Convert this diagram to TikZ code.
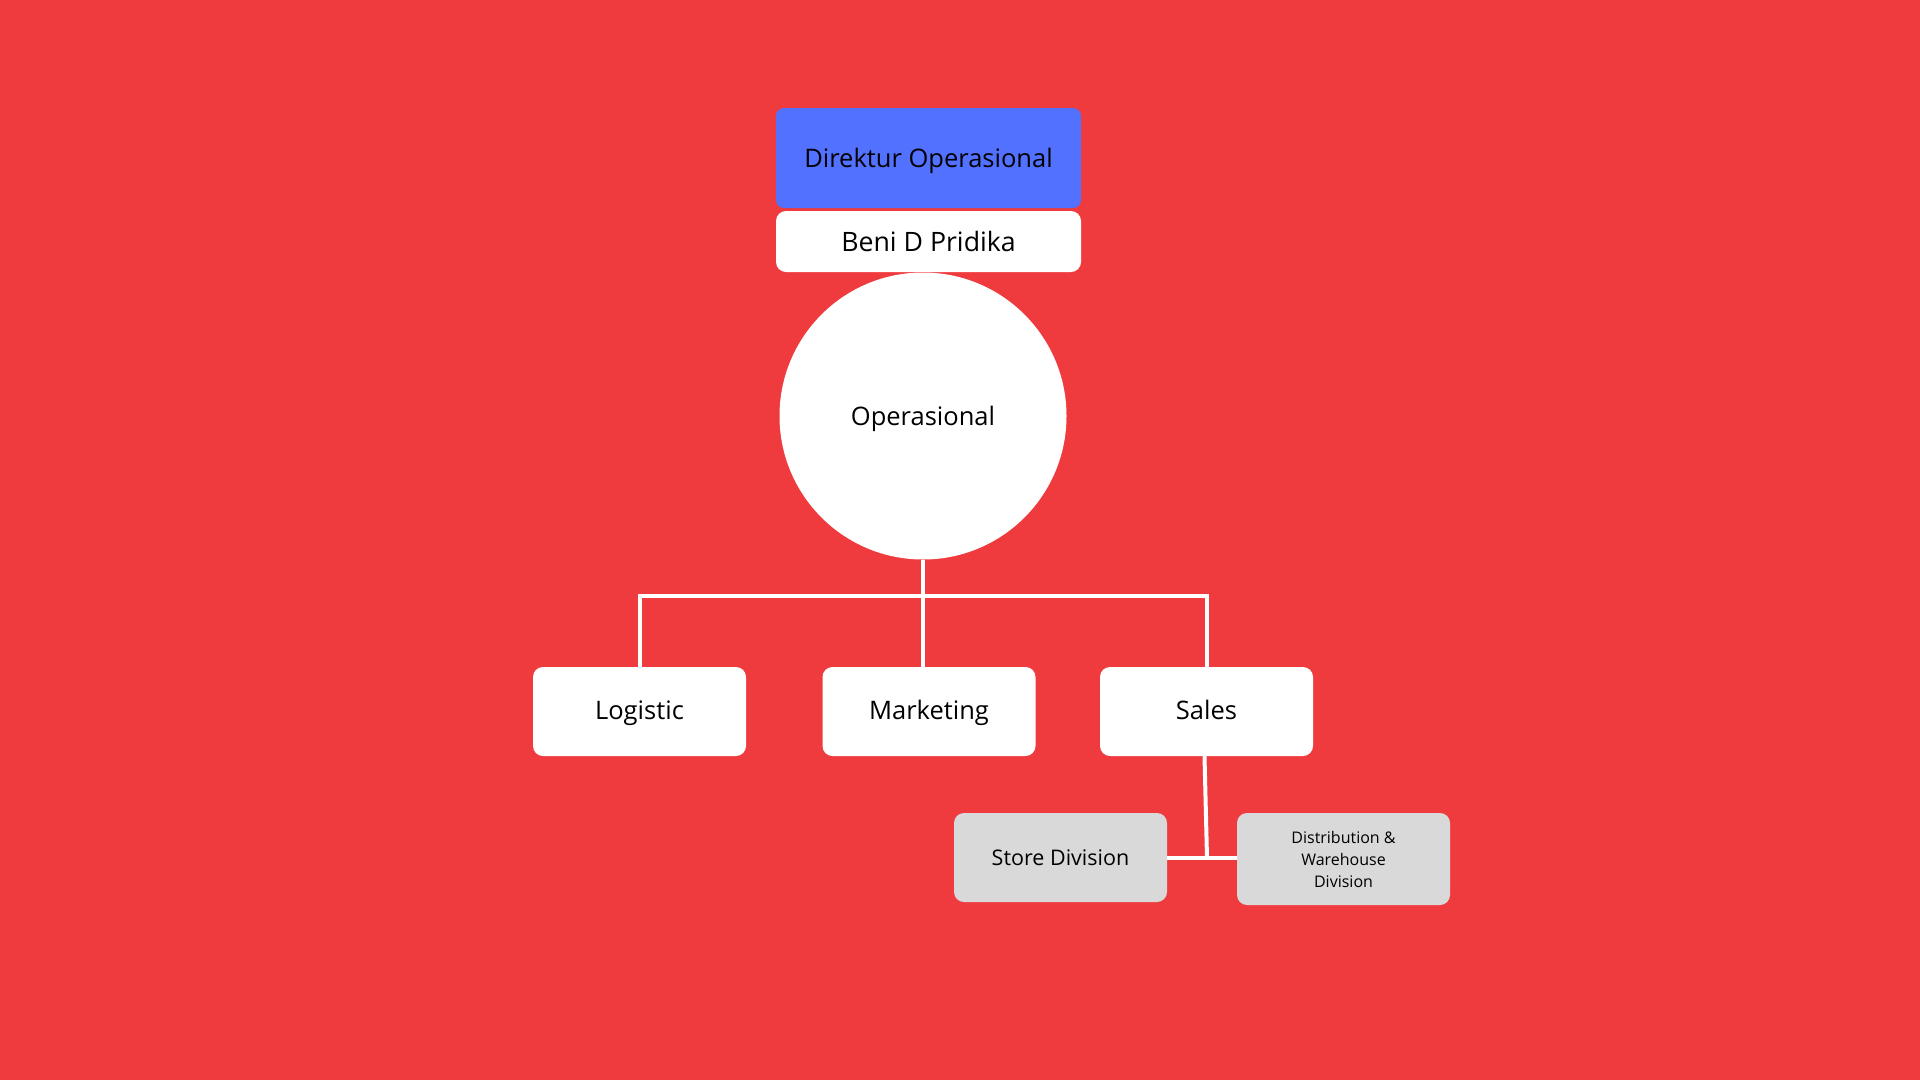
\documentclass[tikz,border=0pt]{standalone}
\usepackage{fontspec}
\setmainfont{Open Sans}
\definecolor{bgred}{HTML}{EF3B3E}
\definecolor{dirblue}{HTML}{5271FF}
\definecolor{lgray}{HTML}{D9D9D9}
\begin{document}
\begin{tikzpicture}[x=1pt,y=-1pt,
  box/.style={rectangle, rounded corners=10pt, fill=white, draw=none, minimum width=213pt, minimum height=89pt, inner sep=0pt},
  fmain/.style={font=\fontsize{25.5}{30}\selectfont, text height=19.8pt, text depth=0pt},
  flevel/.style={font=\fontsize{25.5}{30}\selectfont, text height=15pt, text depth=0pt},
  fname/.style={font=\fontsize{26.7}{32}\selectfont, text height=20.7pt, text depth=0pt},
  fstore/.style={font=\fontsize{21.5}{26}\selectfont, text height=16.7pt, text depth=0pt},
  subbox/.style={box, fill=lgray},
  link/.style={draw=white, line width=4pt}]
\fill[bgred] (0,0) rectangle (1920,1080);
\useasboundingbox (0,0) rectangle (1920,1080);
% header
\node[box, fmain, fill=dirblue, minimum width=305pt, minimum height=100pt, rounded corners=8pt] (dir) at (928.5,158) {Direktur Operasional};
\node[box, fname, minimum width=305pt, minimum height=61pt] (name) at (928.5,241.5) {Beni D Pridika};
\node[circle, fmain, fill=white, minimum size=287pt, inner sep=0pt] (op) at (923,416) {Operasional};
% level 2
\node[box, flevel] (log) at (639.5,711.5) {Logistic};
\node[box, flevel] (mkt) at (929,711.5) {Marketing};
\node[box, flevel] (sal) at (1206.5,711.5) {Sales};
% level 3
\node[subbox, fstore, minimum height=89pt] (store) at (1060.5,857.5) {Store Division};
\node[subbox, minimum height=92pt, align=center, font=\fontsize{16}{22}\selectfont] (dist) at (1343.5,859) {Distribution \&\\Warehouse\\ Division};
% connectors
\coordinate (bar) at (923,596);
\coordinate (j) at (1207,857.5);
\draw[link] (op.south) -- (bar);
\draw[link] (bar) -| (log.north);
\draw[link] (bar) -| (sal.north);
\draw[link] (bar) -- (bar |- mkt.north);
\draw[link] (sal.south) ++(-2,0) -- (j);
\draw[link] (store.east) -- (dist.west |- store.east);
\end{tikzpicture}
\end{document}
